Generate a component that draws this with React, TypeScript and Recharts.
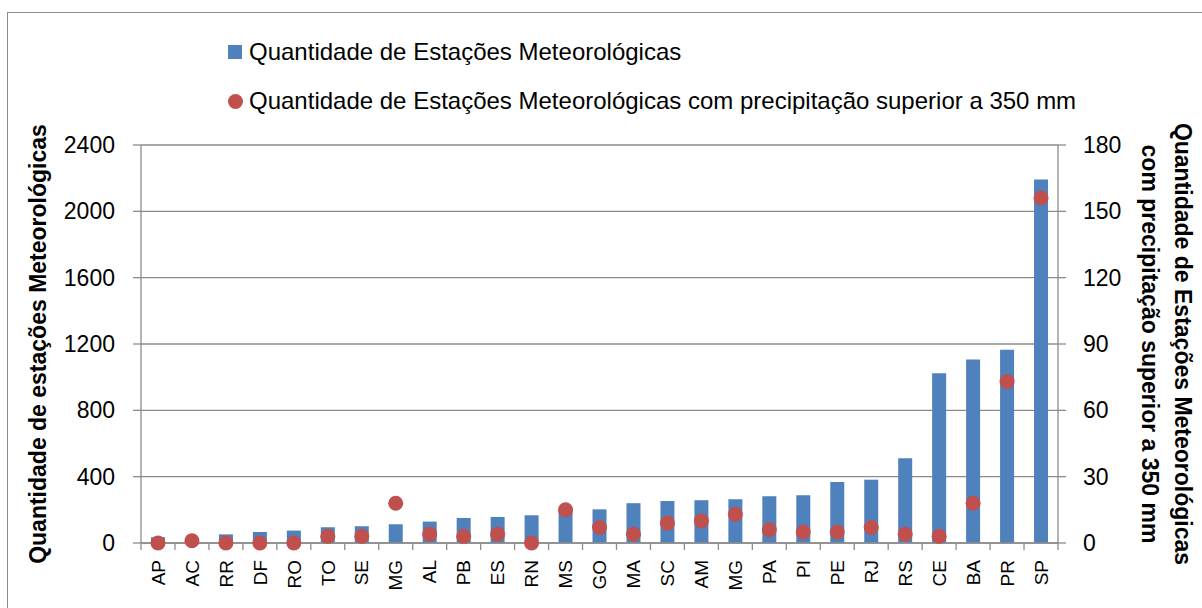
import React from 'react'
import {
  ComposedChart,
  Bar,
  Line,
  XAxis,
  YAxis,
  CartesianGrid,
  Legend,
  Text,
} from 'recharts'

const estados = ['AP', 'AC', 'RR', 'DF', 'RO', 'TO', 'SE', 'MG', 'AL', 'PB', 'ES', 'RN', 'MS', 'GO', 'MA', 'SC', 'AM', 'MG', 'PA', 'PI', 'PE', 'RJ', 'RS', 'CE', 'BA', 'PR', 'SP']
const estacoes = [35, 20, 52, 66, 75, 95, 101, 113, 129, 151, 157, 167, 200, 203, 240, 253, 258, 264, 282, 288, 368, 382, 511, 1023, 1106, 1166, 2192]
const acima350 = [0, 1, 0, 0, 0, 3, 3, 18, 4, 3, 4, 0, 15, 7, 4, 9, 10, 13, 6, 5, 5, 7, 4, 3, 18, 73, 156]

const leftTicks = [0, 400, 800, 1200, 1600, 2000, 2400]
const rightTicks = [0, 30, 60, 90, 120, 150, 180]

const data = estados.map((uf, i) => ({ uf, estacoes: estacoes[i], chuva: acima350[i] }))

const FONT = '"Liberation Sans", Arial, sans-serif'
const AZUL = '#4F81BD'
const VERMELHO = '#C0504D'
const CINZA = '#8c8c8c'

// rótulo girado + marcas entre categorias (estilo Excel)
const renderUfTick = (props: any) => {
  const { x, y, payload, index, visibleTicksCount } = props
  const off = payload.offset || 0
  const last = index === visibleTicksCount - 1
  return (
    <g key={`uf-${index}`}>
      <line x1={x - off} x2={x - off} y1={y} y2={y + 7} stroke={CINZA} strokeWidth={1.3} />
      {last && <line x1={x + off} x2={x + off} y1={y} y2={y + 7} stroke={CINZA} strokeWidth={1.3} />}
      <Text
        x={x}
        y={y + 17}
        angle={-90}
        textAnchor="end"
        verticalAnchor="middle"
        fontFamily={FONT}
        fontSize={19}
        fill="#000"
      >
        {payload.value}
      </Text>
    </g>
  )
}

const LeftTitle = (props: any) => {
  const { viewBox } = props
  const cx = viewBox.x + 7
  const cy = viewBox.y + viewBox.height / 2
  return (
    <text
      x={cx}
      y={cy}
      transform={`rotate(-90 ${cx} ${cy})`}
      textAnchor="middle"
      dominantBaseline="central"
      fontFamily={FONT}
      fontSize={23}
      fontWeight="bold"
      fill="#000"
    >
      Quantidade de estações Meteorológicas
    </text>
  )
}

const RightTitle = (props: any) => {
  const { viewBox } = props
  const cy = viewBox.y + viewBox.height / 2
  const x1 = viewBox.x + 125
  const x2 = viewBox.x + 92
  return (
    <g>
      <text
        x={x1}
        y={cy}
        transform={`rotate(90 ${x1} ${cy})`}
        textAnchor="middle"
        dominantBaseline="central"
        fontFamily={FONT}
        fontSize={23}
        fontWeight="bold"
        fill="#000"
      >
        Quantidade de Estações Meteorológicas
      </text>
      <text
        x={x2}
        y={cy}
        transform={`rotate(90 ${x2} ${cy})`}
        textAnchor="middle"
        dominantBaseline="central"
        fontFamily={FONT}
        fontSize={23}
        fontWeight="bold"
        fill="#000"
      >
        com precipitação superior a 350 mm
      </text>
    </g>
  )
}

const LegendaCustom = () => (
  <div style={{ fontFamily: FONT, fontSize: 24, color: '#000' }}>
    <div style={{ display: 'flex', alignItems: 'center', height: 28, marginBottom: 21 }}>
      <span style={{ width: 14, height: 14, background: AZUL, marginRight: 7 }} />
      <span style={{ whiteSpace: 'nowrap' }}>Quantidade de Estações Meteorológicas</span>
    </div>
    <div style={{ display: 'flex', alignItems: 'center', height: 28 }}>
      <span style={{ width: 15, height: 15, borderRadius: '50%', background: VERMELHO, marginRight: 6 }} />
      <span style={{ whiteSpace: 'nowrap' }}>
        Quantidade de Estações Meteorológicas com precipitação superior a 350 mm
      </span>
    </div>
  </div>
)

export default function App() {
  return (
    <div
      style={{
        position: 'absolute',
        left: 0,
        top: 0,
        width: 1202,
        height: 608,
        overflow: 'hidden',
        background: '#fff',
      }}
    >
      <div
        style={{
          position: 'absolute',
          left: 7,
          top: 12,
          width: 1210,
          height: 620,
          border: `1px solid ${CINZA}`,
        }}
      />
      <ComposedChart
        width={1202}
        height={608}
        data={data}
        margin={{ top: 145, right: 0, bottom: 0, left: 31 }}
      >
        <CartesianGrid
          yAxisId="left"
          xAxisId="uf"
          vertical={false}
          stroke={CINZA}
          strokeWidth={1.3}
        />
        <XAxis
          xAxisId="uf"
          dataKey="uf"
          height={65}
          interval={0}
          tickLine={false}
          tickSize={0}
          tickMargin={0}
          tick={renderUfTick}
          axisLine={{ stroke: CINZA, strokeWidth: 1.3 }}
        />
        <YAxis
          yAxisId="left"
          width={110}
          domain={[0, 2400]}
          ticks={leftTicks}
          tickSize={8}
          tickMargin={18}
          tick={{ fontFamily: FONT, fontSize: 23, fill: '#000' }}
          axisLine={{ stroke: CINZA, strokeWidth: 1.3 }}
          tickLine={{ stroke: CINZA, strokeWidth: 1.3 }}
          label={<LeftTitle />}
        />
        <YAxis
          yAxisId="right"
          orientation="right"
          width={144}
          domain={[0, 180]}
          ticks={rightTicks}
          tickSize={8}
          tickMargin={17}
          tick={{ fontFamily: FONT, fontSize: 23, fill: '#000' }}
          axisLine={{ stroke: CINZA, strokeWidth: 1.3 }}
          tickLine={{ stroke: CINZA, strokeWidth: 1.3 }}
          label={<RightTitle />}
        />
        <Legend
          layout="vertical"
          align="center"
          verticalAlign="middle"
          content={<LegendaCustom />}
          wrapperStyle={{ left: 228, top: 38, width: 'auto' }}
        />
        <Bar
          xAxisId="uf"
          yAxisId="left"
          dataKey="estacoes"
          name="Quantidade de Estações Meteorológicas"
          fill={AZUL}
          barSize={14}
          isAnimationActive={false}
        />
        <Line
          xAxisId="uf"
          yAxisId="right"
          dataKey="chuva"
          name="Quantidade de Estações Meteorológicas com precipitação superior a 350 mm"
          stroke="none"
          legendType="circle"
          dot={{ r: 7.5, fill: VERMELHO, stroke: 'none' }}
          activeDot={false}
          isAnimationActive={false}
        />
      </ComposedChart>
    </div>
  )
}
